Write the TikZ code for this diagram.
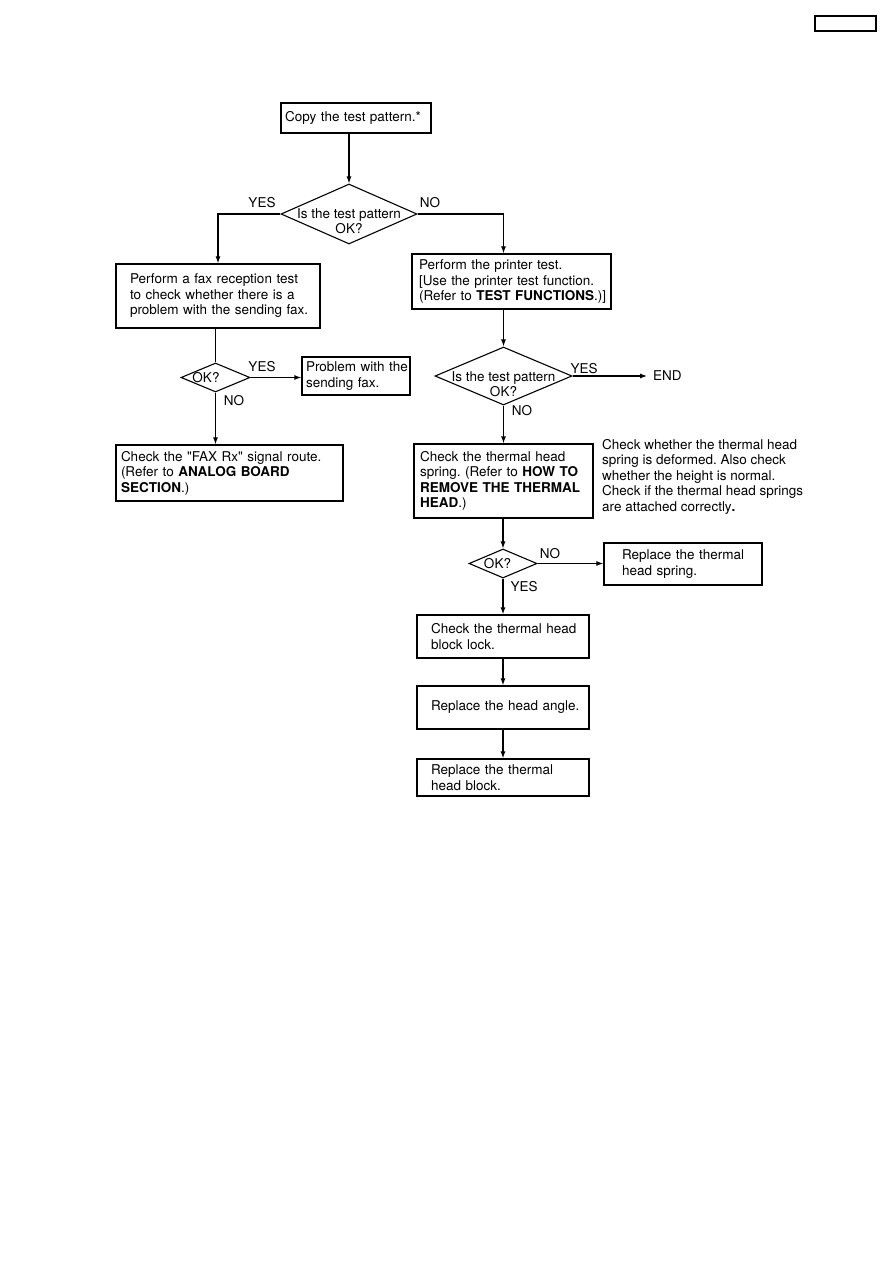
\documentclass[tikz,border=0pt]{standalone}
\usepackage{fontspec}
\setmainfont{TeX Gyre Heros}[Ligatures=TeXOff]
\usetikzlibrary{arrows.meta,shapes.geometric}
\frenchspacing
\begin{document}
\begin{tikzpicture}[x=1pt,y=-1pt,
  font=\fontsize{13.5}{15.5}\selectfont,
  box/.style={draw, line width=1.3pt, align=left, inner ysep=0pt},
  dia/.style={draw, diamond, line width=1.1pt, inner sep=0pt},
  lbl/.style={inner sep=0pt},
  plain/.style={line width=1.1pt},
  arr/.style={line width=1.1pt, -{Latex[length=7pt,width=5pt]}}]
\useasboundingbox (0,0) rectangle (893,1263);

% header box
\node[draw, line width=1.3pt, minimum width=61pt, minimum height=15pt, inner sep=0pt] (hdr) at (845.5,23.5) {};

% left column
\node[box, minimum height=30pt, text width=142pt, inner xsep=4pt] (copy) at (356,118) {\mbox{Copy the test pattern.*}};
\node[dia, minimum width=136pt, minimum height=60pt] (d1) at (349,214) {};
\node[lbl, align=center] (t1) at (349,221) {Is the test pattern\\OK?};
\node[lbl] (yes1) at (262,203) {YES};
\node[lbl] (no1) at (430,203) {NO};

\node[box, minimum height=64pt, text width=176pt, inner xsep=14pt] (fax) at (218,296)
  {\mbox{Perform a fax reception test}\\\mbox{to check whether there is a}\\\mbox{problem with the sending fax.}};
\node[dia, minimum width=69pt, minimum height=29pt] (d2) at (215.5,377.5) {};
\node[lbl] (t2) at (206,377.5) {OK?};
\node[lbl] (yes2) at (262,367) {YES};
\node[lbl] (no2) at (234,401) {NO};
\node[box, minimum height=38pt, text width=100pt, inner xsep=4pt] (prob) at (356,376)
  {\mbox{Problem with the}\\\mbox{sending fax.}};
\node[box, minimum height=56pt, text width=217pt, inner xsep=5pt] (rx) at (229.5,473)
  {\mbox{Check the "FAX Rx" signal route.}\\\mbox{(Refer to \textbf{ANALOG BOARD}}\\\mbox{\textbf{SECTION}.)}};

% right column
\node[box, minimum height=55pt, text width=185pt, inner xsep=7pt] (pt) at (511.5,281.5)
  {\mbox{Perform the printer test.}\\\mbox{[Use the printer test function.}\\\mbox{(Refer to \textbf{TEST FUNCTIONS}.)]}};
\node[dia, minimum width=137pt, minimum height=58pt] (d3) at (503.5,376) {};
\node[lbl, align=center] (t3) at (503.5,384) {Is the test pattern\\OK?};
\node[lbl] (yes3) at (584,369) {YES};
\node[lbl] (no3) at (522,411) {NO};
\node[lbl, anchor=west, inner xsep=6pt] (end) at (647,376) {END};

\node[box, minimum height=74pt, text width=167pt, inner xsep=6pt] (spr) at (503.5,481)
  {\mbox{Check the thermal head}\\\mbox{spring. (Refer to \textbf{HOW TO}}\\\mbox{\textbf{REMOVE THE THERMAL}}\\\mbox{\textbf{HEAD}.)}};
\node[lbl, anchor=west, align=left] (note) at (602,476.5)
  {Check whether the thermal head\\spring is deformed. Also check\\whether the height is normal.\\Check if the thermal head springs\\are attached correctly\textbf{.}};

\node[dia, minimum width=68pt, minimum height=29pt] (d4) at (503,563.5) {};
\node[lbl] (t4) at (497.5,564) {OK?};
\node[lbl] (no4) at (550,554) {NO};
\node[lbl] (yes4) at (524,587) {YES};
\node[box, minimum height=42pt, text width=122pt, inner xsep=18pt] (rsp) at (683,564)
  {\mbox{Replace the thermal}\\\mbox{head spring.}};

\node[box, minimum height=43pt, text width=144pt, inner xsep=14pt] (lock) at (503,636.5)
  {\mbox{Check the thermal head}\\\mbox{block lock.}};
\node[box, minimum height=43pt, text width=144pt, inner xsep=14pt] (ang) at (503,707.5)
  {\mbox{Replace the head angle.}};
\node[box, minimum height=37pt, text width=144pt, inner xsep=14pt] (blk) at (503,777.5)
  {\mbox{Replace the thermal}\\\mbox{head block.}};

% connectors
\draw[arr] (copy.south -| d1.north) -- (d1.north);
\draw[arr] (d1.west) -| (fax.north);
\draw[arr] (d1.east) -| (d3.north |- pt.north);
\draw[plain] (fax.south -| d2.north) -- (d2.north);
\draw[arr] (d2.east) -- (prob.west |- d2.east);
\draw[arr] (d2.south) -- (d2.south |- rx.north);
\draw[arr] (pt.south -| d3.north) -- (d3.north);
\draw[arr] (d3.east) -- (end.west);
\draw[arr] (d3.south) -- (d3.south |- spr.north);
\draw[arr] (spr.south -| d4.north) -- (d4.north);
\draw[arr] (d4.east) -- (rsp.west |- d4.east);
\draw[arr] (d4.south) -- (d4.south |- lock.north);
\draw[arr] (lock.south) -- (ang.north);
\draw[arr] (ang.south) -- (blk.north);
\end{tikzpicture}
\end{document}
